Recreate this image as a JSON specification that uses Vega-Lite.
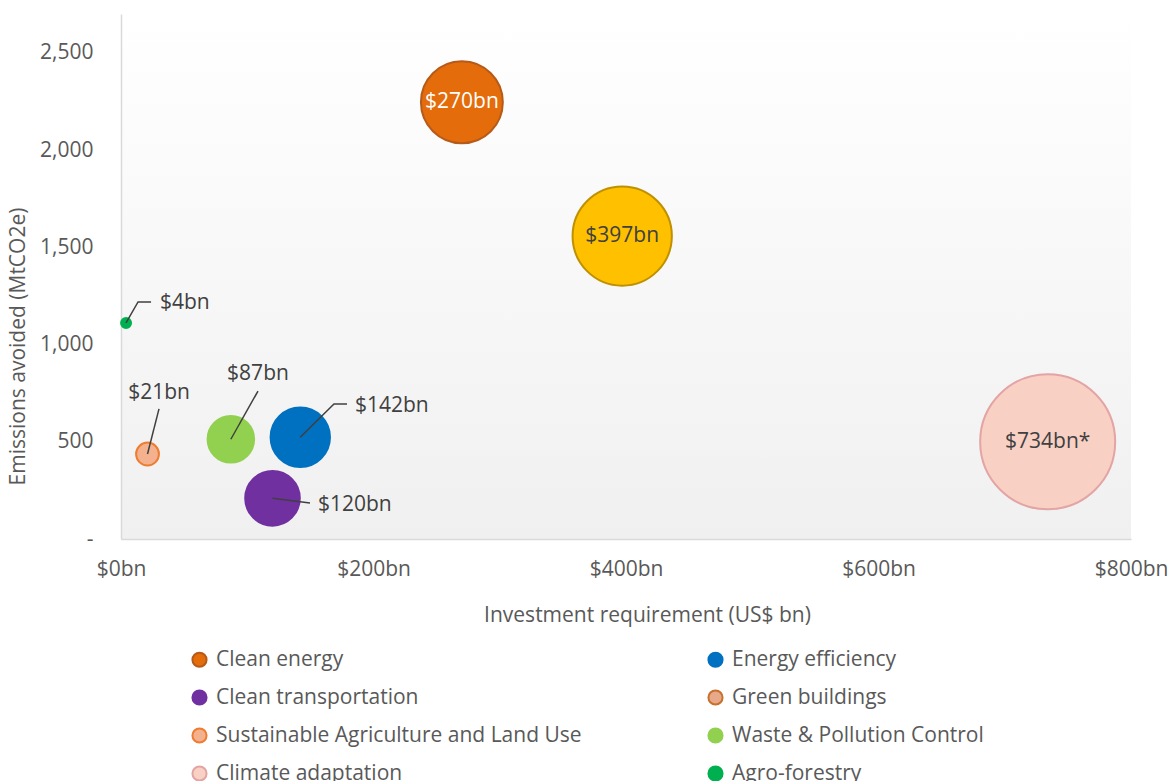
{
  "$schema": "https://vega.github.io/schema/vega-lite/v6.json",
  "autosize": "none",
  "width": 1010,
  "height": 525,
  "padding": {"left": 121, "top": 14, "right": 38, "bottom": 242},
  "background": "white",
  "config": {
    "font": "Open Sans",
    "view": {"stroke": null, "fill": {"gradient": "linear", "x1": 0, "y1": 0, "x2": 0, "y2": 1, "stops": [{"offset": 0, "color": "#FFFFFF"}, {"offset": 1, "color": "#F0F0F0"}]}},
    "axis": {"domainColor": "#D9D9D9", "domainWidth": 1.5, "ticks": false, "grid": false, "labelFlush": false, "labelFont": "Open Sans", "labelFontSize": 21, "labelColor": "#595959", "titleFont": "Open Sans", "titleFontSize": 21, "titleFontWeight": "normal", "titleColor": "#595959"},
    "legend": {"labelFont": "Open Sans", "labelFontSize": 21, "labelColor": "#595959", "labelLimit": 500}
  },
  "datasets": {
    "bubbles": [
      {"series": "Clean energy", "investment": 270, "emissions": 2246, "label": "$270bn"},
      {"series": "Energy efficiency", "investment": 142, "emissions": 523, "label": "$142bn"},
      {"series": "Clean transportation", "investment": 120, "emissions": 209, "label": "$120bn"},
      {"series": "Sustainable Agriculture and Land Use", "investment": 21, "emissions": 437, "label": "$21bn"},
      {"series": "Waste & Pollution Control", "investment": 87, "emissions": 513, "label": "$87bn"},
      {"series": "Climate adaptation", "investment": 734, "emissions": 500, "label": "$734bn*"},
      {"series": "Agro-forestry", "investment": 4, "emissions": 1111, "label": "$4bn"},
      {"series": "Unlisted", "investment": 397, "emissions": 1558, "label": "$397bn"}
    ],
    "callouts": [
      {"label": "$4bn", "lx": 30.9, "ly": 1214},
      {"label": "$21bn", "lx": 30.1, "ly": 751},
      {"label": "$87bn", "lx": 108.5, "ly": 849},
      {"label": "$142bn", "lx": 185.3, "ly": 684},
      {"label": "$120bn", "lx": 156, "ly": 175}
    ],
    "leaders": [
      {"label": "$4bn", "seq": 1, "x": 4, "y": 1111},
      {"label": "$4bn", "seq": 2, "x": 13.5, "y": 1219},
      {"label": "$4bn", "seq": 3, "x": 23.8, "y": 1219},
      {"label": "$21bn", "seq": 1, "x": 21, "y": 437},
      {"label": "$21bn", "seq": 2, "x": 30.1, "y": 669},
      {"label": "$87bn", "seq": 1, "x": 87, "y": 513},
      {"label": "$87bn", "seq": 2, "x": 108.5, "y": 761},
      {"label": "$142bn", "seq": 1, "x": 142, "y": 523},
      {"label": "$142bn", "seq": 2, "x": 168.7, "y": 694},
      {"label": "$142bn", "seq": 3, "x": 179, "y": 694},
      {"label": "$120bn", "seq": 1, "x": 120, "y": 209},
      {"label": "$120bn", "seq": 2, "x": 149.7, "y": 185}
    ]
  },
  "layer": [
    {
      "data": {"name": "bubbles"},
      "transform": [{"filter": "datum.series != 'Unlisted'"}],
      "mark": {"type": "circle", "opacity": 1, "strokeWidth": 2},
      "encoding": {
        "x": {"field": "investment", "type": "quantitative", "scale": {"domain": [0, 800], "nice": false}, "axis": {"values": [0, 200, 400, 600, 800], "labelExpr": "'$' + datum.value + 'bn'", "labelPadding": 19, "title": "Investment requirement (US$ bn)", "titleX": 526, "titleY": 76, "titleBaseline": "middle"}},
        "y": {"field": "emissions", "type": "quantitative", "scale": {"domain": [0, 2700], "nice": false}, "axis": {"values": [0, 500, 1000, 1500, 2000, 2500], "labelExpr": "datum.value == 0 ? '-' : format(datum.value, ',')", "labelPadding": 28, "title": "Emissions avoided (MtCO2e)", "titleX": -103, "titleY": 332, "titleAngle": -90, "titleBaseline": "middle", "titleAlign": "center"}},
        "size": {"field": "investment", "type": "quantitative", "scale": {"domain": [0, 734], "range": [0, 18225], "zero": true}, "legend": null},
        "color": {"field": "series", "type": "nominal", "title": null,
          "scale": {"domain": ["Clean energy", "Energy efficiency", "Clean transportation", "Green buildings", "Sustainable Agriculture and Land Use", "Waste & Pollution Control", "Climate adaptation", "Agro-forestry"],
            "range": ["#E46C0A", "#0070C0", "#7030A0", "#E8A88A", "#F4B18E", "#92D050", "#F8D0C4", "#00B050"]},
          "legend": {"orient": "none", "direction": "horizontal", "legendX": 68, "legendY": 635, "columns": 2, "symbolType": "circle", "symbolSize": 200, "symbolStrokeWidth": 2, "labelOffset": 6, "rowPadding": 15, "columnPadding": 122, "padding": 0}},
        "stroke": {"field": "series", "type": "nominal", "title": null,
          "scale": {"domain": ["Clean energy", "Energy efficiency", "Clean transportation", "Green buildings", "Sustainable Agriculture and Land Use", "Waste & Pollution Control", "Climate adaptation", "Agro-forestry"],
            "range": ["#B65A1A", "#0070C0", "#7030A0", "#C8702E", "#ED7D31", "#92D050", "#E3A4A4", "#00B050"]}}
      }
    },
    {
      "data": {"name": "bubbles"},
      "transform": [{"filter": "datum.series == 'Unlisted'"}],
      "mark": {"type": "circle", "opacity": 1, "strokeWidth": 2, "fill": "#FFC000", "stroke": "#BF9000"},
      "encoding": {
        "x": {"field": "investment", "type": "quantitative"},
        "y": {"field": "emissions", "type": "quantitative"},
        "size": {"field": "investment", "type": "quantitative"}
      }
    },
    {
      "data": {"name": "leaders"},
      "mark": {"type": "line", "color": "#404040", "strokeWidth": 1.5},
      "encoding": {
        "x": {"field": "x", "type": "quantitative"},
        "y": {"field": "y", "type": "quantitative"},
        "detail": {"field": "label"},
        "order": {"field": "seq", "type": "quantitative"}
      }
    },
    {
      "data": {"name": "callouts"},
      "transform": [{"filter": "indexof(['$4bn', '$142bn', '$120bn'], datum.label) >= 0"}],
      "mark": {"type": "text", "align": "left", "baseline": "middle", "fontSize": 21, "color": "#404040"},
      "encoding": {
        "x": {"field": "lx", "type": "quantitative"},
        "y": {"field": "ly", "type": "quantitative"},
        "text": {"field": "label"}
      }
    },
    {
      "data": {"name": "callouts"},
      "transform": [{"filter": "indexof(['$21bn', '$87bn'], datum.label) >= 0"}],
      "mark": {"type": "text", "align": "center", "baseline": "middle", "fontSize": 21, "color": "#404040"},
      "encoding": {
        "x": {"field": "lx", "type": "quantitative"},
        "y": {"field": "ly", "type": "quantitative"},
        "text": {"field": "label"}
      }
    },
    {
      "data": {"name": "bubbles"},
      "transform": [{"filter": "indexof(['$270bn', '$397bn', '$734bn*'], datum.label) >= 0"}],
      "mark": {"type": "text", "align": "center", "baseline": "middle", "fontSize": 21},
      "encoding": {
        "x": {"field": "investment", "type": "quantitative"},
        "y": {"field": "emissions", "type": "quantitative"},
        "text": {"field": "label"},
        "color": {"condition": {"test": "datum.label == '$270bn'", "value": "#FFFFFF"}, "value": "#404040"}
      }
    }
  ]
}
